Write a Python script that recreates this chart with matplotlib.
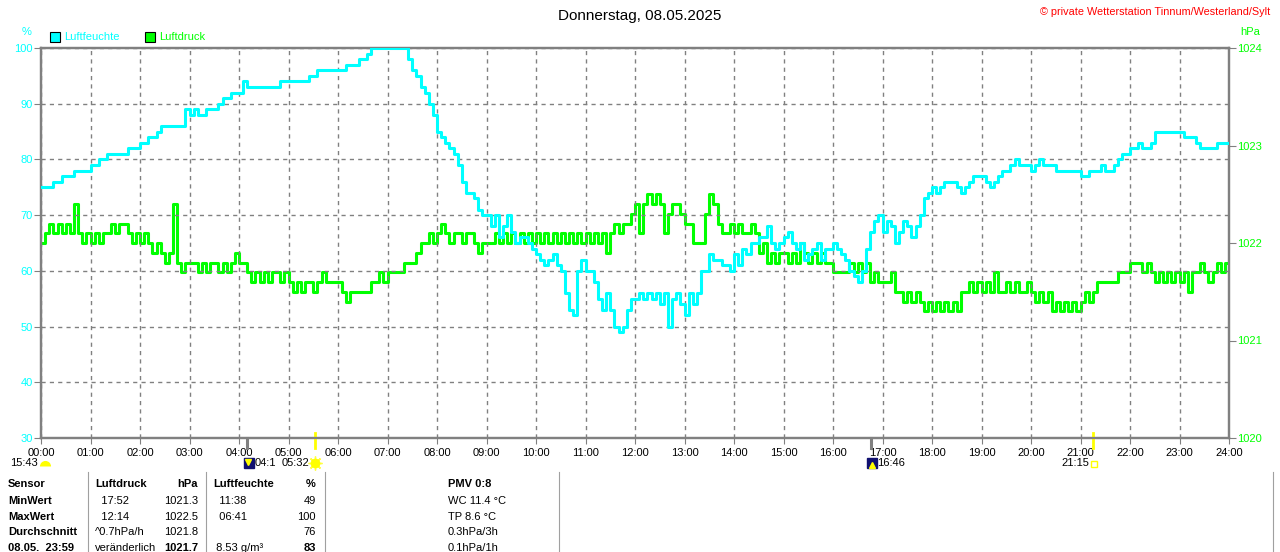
import numpy as np
import matplotlib
matplotlib.use('Agg')
import matplotlib.pyplot as plt
from matplotlib.lines import Line2D

plt.rcParams['font.family'] = ['Liberation Sans', 'DejaVu Sans']

# Messwerte alle 5 Minuten (00:00 .. 24:00), je Zeile eine Stunde
minuten = np.arange(0, 1441, 5)

luftfeuchte = [
    75, 75, 75, 76, 76, 77, 77, 77, 78, 78, 78, 78,
    79, 79, 80, 80, 81, 81, 81, 81, 81, 82, 82, 82,
    83, 83, 84, 84, 85, 86, 86, 86, 86, 86, 86, 89,
    88, 89, 88, 88, 89, 89, 89, 90, 91, 91, 92, 92,
    92, 94, 93, 93, 93, 93, 93, 93, 93, 93, 94, 94,
    94, 94, 94, 94, 94, 95, 95, 96, 96, 96, 96, 96,
    96, 96, 97, 97, 97, 98, 98, 99, 100, 100, 100, 100,
    100, 100, 100, 100, 100, 98, 96, 95, 93, 92, 90, 88,
    85, 84, 83, 82, 81, 79, 76, 74, 74, 73, 71, 70,
    70, 68, 70, 66, 68, 70, 67, 65, 66, 66, 65, 64,
    63, 62, 61, 62, 63, 61, 60, 56, 53, 52, 60, 62,
    60, 60, 58, 55, 53, 56, 53, 50, 49, 50, 53, 55,
    55, 56, 55, 56, 55, 56, 54, 56, 50, 55, 56, 54,
    52, 56, 54, 56, 60, 60, 63, 62, 62, 61, 61, 60,
    63, 61, 64, 63, 65, 65, 66, 66, 68, 65, 64, 65,
    66, 67, 65, 64, 65, 62, 63, 64, 65, 62, 64, 64,
    65, 64, 63, 62, 60, 59, 58, 60, 64, 67, 69, 70,
    67, 69, 68, 65, 67, 69, 68, 66, 68, 70, 73, 74,
    75, 74, 75, 76, 76, 76, 75, 74, 75, 76, 77, 77,
    77, 76, 75, 76, 77, 78, 78, 79, 80, 79, 79, 79,
    78, 79, 80, 79, 79, 79, 78, 78, 78, 78, 78, 78,
    77, 77, 78, 78, 78, 79, 78, 78, 79, 80, 81, 81,
    82, 82, 83, 82, 82, 83, 85, 85, 85, 85, 85, 85,
    85, 84, 84, 84, 83, 82, 82, 82, 82, 83, 83, 83,
    83,
]

luftdruck = [
    1022.0, 1022.1, 1022.2, 1022.1, 1022.2, 1022.1, 1022.2, 1022.1, 1022.4, 1022.1, 1022.0, 1022.1,
    1022.0, 1022.1, 1022.0, 1022.1, 1022.1, 1022.2, 1022.1, 1022.2, 1022.2, 1022.1, 1022.0, 1022.1,
    1022.0, 1022.1, 1022.0, 1021.9, 1022.0, 1021.9, 1021.8, 1021.9, 1022.4, 1021.8, 1021.7, 1021.8,
    1021.8, 1021.8, 1021.7, 1021.8, 1021.7, 1021.8, 1021.8, 1021.7, 1021.8, 1021.7, 1021.8, 1021.9,
    1021.8, 1021.8, 1021.7, 1021.6, 1021.7, 1021.6, 1021.7, 1021.6, 1021.7, 1021.7, 1021.6, 1021.7,
    1021.6, 1021.5, 1021.6, 1021.5, 1021.6, 1021.6, 1021.5, 1021.6, 1021.7, 1021.6, 1021.6, 1021.6,
    1021.6, 1021.5, 1021.4, 1021.5, 1021.5, 1021.5, 1021.5, 1021.5, 1021.6, 1021.6, 1021.7, 1021.6,
    1021.7, 1021.7, 1021.7, 1021.7, 1021.8, 1021.8, 1021.8, 1021.9, 1022.0, 1022.0, 1022.1, 1022.0,
    1022.1, 1022.2, 1022.1, 1022.0, 1022.1, 1022.1, 1022.0, 1022.1, 1022.1, 1022.0, 1021.9, 1022.0,
    1022.0, 1022.0, 1022.1, 1022.0, 1022.1, 1022.0, 1022.1, 1022.0, 1022.1, 1022.0, 1022.1, 1022.0,
    1022.1, 1022.0, 1022.1, 1022.0, 1022.1, 1022.0, 1022.1, 1022.0, 1022.1, 1022.0, 1022.1, 1022.0,
    1022.1, 1022.0, 1022.1, 1022.0, 1022.1, 1021.9, 1022.1, 1022.2, 1022.1, 1022.2, 1022.2, 1022.3,
    1022.4, 1022.1, 1022.4, 1022.5, 1022.4, 1022.5, 1022.4, 1022.1, 1022.3, 1022.4, 1022.4, 1022.3,
    1022.2, 1022.2, 1022.0, 1022.0, 1022.0, 1022.3, 1022.5, 1022.4, 1022.2, 1022.1, 1022.1, 1022.2,
    1022.1, 1022.2, 1022.1, 1022.1, 1022.2, 1022.1, 1021.9, 1022.0, 1021.8, 1021.9, 1021.8, 1021.9,
    1021.9, 1021.8, 1021.9, 1021.8, 1022.0, 1021.9, 1021.8, 1021.9, 1021.8, 1021.9, 1021.8, 1021.8,
    1021.7, 1021.7, 1021.7, 1021.7, 1021.8, 1021.7, 1021.8, 1021.7, 1021.8, 1021.6, 1021.7, 1021.6,
    1021.6, 1021.6, 1021.7, 1021.5, 1021.5, 1021.4, 1021.5, 1021.4, 1021.5, 1021.4, 1021.3, 1021.4,
    1021.3, 1021.4, 1021.3, 1021.4, 1021.3, 1021.4, 1021.3, 1021.5, 1021.5, 1021.6, 1021.5, 1021.6,
    1021.5, 1021.6, 1021.5, 1021.7, 1021.5, 1021.5, 1021.6, 1021.5, 1021.6, 1021.5, 1021.5, 1021.6,
    1021.5, 1021.4, 1021.5, 1021.4, 1021.5, 1021.3, 1021.4, 1021.3, 1021.4, 1021.3, 1021.4, 1021.3,
    1021.4, 1021.5, 1021.4, 1021.5, 1021.6, 1021.6, 1021.6, 1021.6, 1021.6, 1021.7, 1021.7, 1021.7,
    1021.8, 1021.8, 1021.8, 1021.7, 1021.8, 1021.7, 1021.6, 1021.7, 1021.6, 1021.7, 1021.6, 1021.7,
    1021.6, 1021.7, 1021.5, 1021.7, 1021.7, 1021.8, 1021.7, 1021.6, 1021.7, 1021.8, 1021.7, 1021.8,
    1021.7,
]

stunden_labels = ['%02d:00' % h for h in range(25)]
feuchte_ticks = [30, 40, 50, 60, 70, 80, 90, 100]
druck_ticks = [1020, 1021, 1022, 1023, 1024]

# Sonne / Mond (Stunden)
sonnenaufgang = 5 + 32 / 60
sonnenuntergang = 21 + 15 / 60
monduntergang = 4 + 10 / 60
mondaufgang = 16 + 46 / 60

# Tabelle unten
tab_sensor = ['Sensor', 'MinWert', 'MaxWert', 'Durchschnitt', '08.05.  23:59']
tab_druck_a = ['Luftdruck', '  17:52', '  12:14', '^0.7hPa/h', 'veränderlich']
tab_druck_b = ['hPa', '1021.3', '1022.5', '1021.8', '1021.7']
tab_feuchte_a = ['Luftfeuchte', '  11:38', '  06:41', '', ' 8.53 g/m³']
tab_feuchte_b = ['%', '49', '100', '76', '83']
tab_pmv = ['PMV 0:8', 'WC 11.4 °C', 'TP 8.6 °C', '0.3hPa/3h', '0.1hPa/1h']

CYAN = '#00ffff'
GRUEN = '#00ff00'
GRAU = '#808080'

W, H = 1280, 552


def fx(x):
    return x / W


def fy(y):
    return 1 - y / H


fig = plt.figure(figsize=(12.8, 5.52), dpi=100)
ax = fig.add_axes([fx(41), fy(438), 1188 / W, 390 / H])

stunden = minuten / 60.0
ax.plot(stunden, luftfeuchte, color=CYAN, lw=2.2, drawstyle='steps-post', zorder=4)
ax.set_xlim(0, 24)
ax.set_ylim(30, 100)

ax2 = ax.twinx()
ax2.plot(stunden, luftdruck, color=GRUEN, lw=2.2, drawstyle='steps-post', zorder=3)
ax2.set_ylim(1020, 1024)
ax.set_zorder(ax2.get_zorder() + 1)
ax.patch.set_visible(False)

ax.set_xticks(range(25))
ax.set_xticklabels(stunden_labels)
ax.set_yticks(feuchte_ticks)
ax.set_yticklabels([str(v) for v in feuchte_ticks], color=CYAN)
ax2.set_yticks(druck_ticks)
ax2.set_yticklabels([str(v) for v in druck_ticks], color=GRUEN)

ax.grid(True, color=GRAU, linestyle=(0, (3, 3)), linewidth=1)
ax.tick_params(axis='x', direction='out', length=4, color=GRAU, labelsize=8, pad=3)
ax.tick_params(axis='y', direction='out', length=5, color=GRAU, labelsize=8, pad=1)
ax2.tick_params(axis='y', direction='out', length=5, color=GRAU, labelsize=8, pad=1)
for a in (ax, ax2):
    for s in a.spines.values():
        s.set_color(GRAU)
        s.set_linewidth(1.6)

# Markierungen Sonne / Mond an der Zeitachse
xt = ax.get_xaxis_transform()
ax.plot([sonnenaufgang] * 2, [0.013, -0.026], color='#ffff00', lw=2, transform=xt, clip_on=False)
ax.plot([sonnenuntergang] * 2, [0.013, -0.026], color='#ffff00', lw=2, transform=xt, clip_on=False)
ax.plot([monduntergang] * 2, [0.0, -0.026], color=GRAU, lw=2.2, transform=xt, clip_on=False)
ax.plot([mondaufgang] * 2, [0.0, -0.026], color=GRAU, lw=2.2, transform=xt, clip_on=False)

# Symbole unter der Achse
fig.add_artist(Line2D([fx(45)], [fy(466)], marker='o', ms=8, color='#ffff00', fillstyle='top',
                      markerfacecoloralt='none', mec='none'))
fig.add_artist(Line2D([fx(249)], [fy(463)], marker='s', ms=7, color='#101070', mec='#101070'))
fig.add_artist(Line2D([fx(248)], [fy(462)], marker='v', ms=4, color='#ffff00', mec='#ffff00'))
fig.add_artist(Line2D([fx(315)], [fy(463)], marker=(8, 2, 0), ms=10, color='#ffff40', mew=1))
fig.add_artist(Line2D([fx(315)], [fy(463)], marker='o', ms=6, color='#ffff00', mec='#ffff00'))
fig.add_artist(Line2D([fx(872)], [fy(463)], marker='s', ms=7, color='#101070', mec='#101070'))
fig.add_artist(Line2D([fx(872)], [fy(465)], marker='^', ms=4, color='#ffff00', mec='#ffff00'))
fig.add_artist(Line2D([fx(1094)], [fy(464)], marker='s', ms=4, mfc='white', mec='#ffff00', mew=1))

fs = 8
fig.text(fx(10), fy(463), '15:43', fontsize=fs, va='center')
fig.text(fx(255), fy(463), '04:1', fontsize=fs, va='center')
fig.text(fx(282), fy(463), '05:32', fontsize=fs, va='center')
fig.text(fx(877), fy(463), '16:46', fontsize=fs, va='center')
fig.text(fx(1061), fy(463), '21:15', fontsize=fs, va='center')

# Kopfzeile
fig.text(0.5, fy(16), 'Donnerstag, 08.05.2025', fontsize=11, ha='center', va='center')
fig.text(fx(1270), fy(12), '© private Wetterstation Tinnum/Westerland/Sylt', fontsize=7.8,
         color='#ff0000', ha='right', va='center')
fig.text(fx(27), fy(32), '%', fontsize=fs, color=CYAN, ha='center', va='center')
fig.text(fx(1240), fy(32), 'hPa', fontsize=fs, color=GRUEN, ha='left', va='center')
fig.add_artist(Line2D([fx(55)], [fy(37)], marker='s', ms=6.5, mfc=CYAN, mec='black', mew=0.8))
fig.text(fx(64), fy(37), 'Luftfeuchte', fontsize=fs, color=CYAN, va='center')
fig.add_artist(Line2D([fx(150)], [fy(37)], marker='s', ms=6.5, mfc=GRUEN, mec='black', mew=0.8))
fig.text(fx(159), fy(37), 'Luftdruck', fontsize=fs, color=GRUEN, va='center')

# Tabelle
zeilen_y = [484, 501, 517, 532, 548]
for i, y in enumerate(zeilen_y):
    kopf = (i == 0)
    fig.text(fx(8), fy(y), tab_sensor[i], fontsize=fs, weight='bold', va='center')
    fig.text(fx(95), fy(y), tab_druck_a[i], fontsize=fs, va='center',
             weight='bold' if kopf else 'normal')
    fig.text(fx(198), fy(y), tab_druck_b[i], fontsize=fs, va='center', ha='right',
             weight='bold' if kopf or i == 4 else 'normal')
    fig.text(fx(213), fy(y), tab_feuchte_a[i], fontsize=fs, va='center',
             weight='bold' if kopf else 'normal')
    fig.text(fx(316), fy(y), tab_feuchte_b[i], fontsize=fs, va='center', ha='right',
             weight='bold' if kopf or i == 4 else 'normal')
    fig.text(fx(448), fy(y), tab_pmv[i], fontsize=fs, va='center',
             weight='bold' if kopf else 'normal')

for xs in (88, 206, 325, 559, 1273):
    fig.add_artist(Line2D([fx(xs), fx(xs)], [fy(472), 0], color='#a0a0a0', lw=0.8))

fig.savefig('out.png', dpi=100)
